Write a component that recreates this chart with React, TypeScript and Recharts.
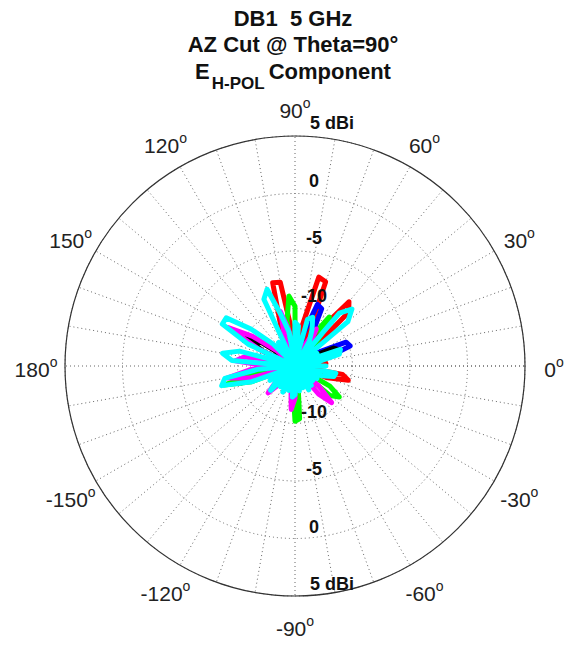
import { RadarChart, Radar, PolarGrid, PolarAngleAxis, PolarRadiusAxis } from "recharts"

const FONT = "'Liberation Sans', Arial, Helvetica, sans-serif"
const CX = 295
const CY = 366
const R = 230
const LABEL_R = 259

// azimuth in degrees, counter-clockwise from 0 (east)
const angles = [
  0, 5, 10, 15, 20, 25, 30, 35, 40, 45, 50, 55, 60, 65, 70, 75, 80, 85,
  90, 95, 100, 105, 110, 115, 120, 125, 130, 135, 140, 145, 150, 155, 160, 165, 170, 175,
  180, 185, 190, 195, 200, 205, 210, 215, 220, 225, 230, 235, 240, 245, 250, 255, 260, 265,
  270, 275, 280, 285, 290, 295, 300, 305, 310, 315, 320, 325, 330, 335, 340, 345, 350, 355,
]

// gain in dBi per series
const red = [
  -14.5, -12.3, -14.8, -13.2, -14.5, -13.0, -14.8, -13.8, -14.5, -8.4, -7.7, -11.0, -14.8, -13.0, -7.2, -7.0, -11.5, -14.8,
  -13.8, -12.0, -7.6, -7.5, -11.5, -14.8, -13.5, -14.8, -13.5, -14.5, -13.8, -14.8, -13.2, -14.5, -13.8, -14.8, -13.0, -14.5,
  -13.5, -14.8, -13.0, -14.5, -13.5, -14.8, -13.8, -14.5, -13.5, -14.8, -14.0, -14.8, -13.8, -14.5, -13.5, -14.8, -13.8, -14.5,
  -13.5, -14.8, -14.0, -14.5, -13.5, -14.8, -13.8, -14.5, -13.5, -14.8, -13.2, -14.5, -13.5, -14.8, -12.0, -10.2, -10.8, -14.8,
]
const green = [
  -14.8, -13.5, -14.5, -13.8, -14.8, -13.5, -14.5, -13.5, -14.8, -13.0, -11.5, -9.8, -12.0, -14.8, -13.8, -14.5, -13.5, -14.8,
  -9.8, -8.9, -11.0, -14.5, -13.5, -14.8, -13.8, -14.5, -13.5, -14.8, -13.8, -14.5, -13.0, -14.8, -13.5, -14.5, -13.2, -14.8,
  -13.5, -14.5, -12.0, -8.6, -11.0, -14.8, -13.8, -14.5, -13.5, -14.8, -13.8, -14.5, -13.5, -14.8, -13.8, -14.5, -13.5, -13.0,
  -10.2, -10.4, -13.5, -14.8, -13.8, -14.5, -13.5, -14.8, -13.5, -14.5, -11.0, -10.3, -11.5, -14.8, -13.8, -14.5, -13.5, -14.5,
]
const blue = [
  -14.5, -13.5, -14.8, -12.0, -9.9, -10.1, -12.5, -14.8, -13.5, -14.5, -13.5, -14.8, -12.5, -9.5, -9.3, -12.0, -14.8, -13.8,
  -14.5, -13.5, -14.8, -13.8, -14.5, -13.5, -14.8, -13.8, -14.5, -13.5, -14.8, -13.5, -14.5, -13.8, -14.8, -13.5, -14.5, -13.2,
  -14.8, -13.5, -14.5, -13.2, -14.8, -13.8, -14.5, -13.5, -14.8, -13.8, -14.5, -13.5, -14.8, -13.8, -14.5, -13.5, -14.8, -13.8,
  -14.5, -13.5, -14.8, -13.8, -14.5, -13.5, -14.8, -13.8, -14.5, -13.5, -14.8, -13.8, -14.5, -13.5, -14.8, -13.8, -14.5, -13.5,
]
const black = [
  -14.8, -13.8, -14.5, -12.8, -10.9, -11.3, -13.5, -14.8, -13.8, -14.5, -13.5, -14.8, -13.8, -14.5, -13.5, -14.8, -13.8, -14.5,
  -13.5, -14.8, -13.8, -14.5, -13.5, -14.8, -13.8, -14.5, -13.5, -14.8, -13.5, -11.5, -9.8, -12.0, -14.8, -13.8, -14.5, -13.5,
  -14.8, -13.8, -14.5, -13.5, -14.8, -13.8, -14.5, -13.5, -14.8, -13.8, -14.5, -13.5, -14.8, -13.8, -14.5, -13.5, -14.8, -13.8,
  -14.5, -13.5, -14.8, -13.8, -14.5, -13.5, -14.8, -13.8, -14.5, -13.5, -14.8, -13.8, -14.5, -13.5, -14.8, -13.8, -14.5, -13.5,
]
const magenta = [
  -14.8, -13.8, -14.5, -13.5, -14.8, -13.8, -14.5, -13.5, -14.8, -13.5, -14.5, -13.0, -11.3, -13.0, -14.8, -13.8, -14.5, -13.5,
  -14.8, -13.5, -11.8, -10.1, -12.5, -14.8, -13.8, -14.5, -13.5, -14.8, -13.0, -10.5, -8.3, -11.5, -14.8, -13.0, -10.5, -9.8,
  -12.5, -11.0, -9.0, -11.0, -14.5, -13.8, -14.8, -13.5, -12.8, -11.7, -13.0, -14.8, -13.8, -14.5, -13.5, -14.8, -13.0, -11.2,
  -12.2, -14.5, -13.8, -14.8, -13.5, -14.5, -13.8, -14.8, -11.8, -10.5, -12.3, -14.8, -13.8, -14.5, -13.5, -14.8, -13.8, -14.5,
]
const cyan = [
  -12.3, -14.5, -13.0, -11.0, -10.8, -14.0, -12.8, -14.8, -9.0, -8.0, -9.0, -14.5, -12.5, -11.5, -10.5, -10.8, -14.5, -11.5,
  -11.2, -14.8, -12.0, -10.5, -7.9, -8.6, -14.8, -12.5, -14.5, -12.3, -10.0, -7.7, -7.7, -10.5, -14.8, -10.0, -8.6, -9.5,
  -14.8, -11.8, -8.8, -8.4, -11.0, -14.5, -12.5, -14.8, -12.8, -12.0, -14.5, -12.8, -14.8, -12.5, -14.5, -12.8, -14.8, -12.3,
  -12.5, -14.8, -12.8, -14.5, -13.0, -14.8, -12.6, -14.5, -12.8, -14.8, -13.0, -14.5, -12.8, -14.8, -12.5, -11.5, -11.4, -14.5,
]

const data = angles.map((angle, i) => ({
  angle,
  red: red[i],
  green: green[i],
  blue: blue[i],
  black: black[i],
  magenta: magenta[i],
  cyan: cyan[i],
}))

const series = [
  { key: "red", color: "#ff0000" },
  { key: "green", color: "#00ff00" },
  { key: "blue", color: "#0000ff" },
  { key: "black", color: "#000000" },
  { key: "magenta", color: "#ff00ff" },
  { key: "cyan", color: "#00ffff" },
]

function AngleTick(props: any) {
  const { payload, x, y } = props
  const v = Math.round(payload.value)
  if (v % 30 !== 0 || v >= 360) return <g />
  const dx = x - CX
  const dy = y - CY
  const d = Math.hypot(dx, dy) || 1
  const px = CX + (dx / d) * LABEL_R
  const py = CY + (dy / d) * LABEL_R
  const label = v <= 180 ? v : v - 360
  return (
    <text x={px} y={py + 11} textAnchor="middle" fontSize={21} fill="#222" fontFamily={FONT}>
      {label}
      <tspan fontSize={14} dy={-10}>o</tspan>
    </text>
  )
}

function RadiusTick(props: any) {
  const { payload, y } = props
  const v = payload.value
  if (v <= -15) return <g />
  const r = CY - y
  const text = v === 5 ? "5 dBi" : String(v)
  const bx = v === 5 ? CX + 37 : CX + 19
  const style = { fontSize: 18, fontWeight: 700, fontFamily: FONT }
  return (
    <g>
      <text x={bx} y={CY - r - 7} textAnchor="middle" fill="#111" style={style}>{text}</text>
      <text x={bx} y={CY + r - 6} textAnchor="middle" fill="#111" style={style}>{text}</text>
    </g>
  )
}

export default function App() {
  const titleLine = { position: "absolute" as const, left: 0, width: 586, textAlign: "center" as const, fontSize: 22, fontWeight: 700, lineHeight: "26px", color: "#111", fontFamily: FONT, whiteSpace: "nowrap" as const }
  return (
    <div style={{ position: "absolute", left: 0, top: 0, width: 566, height: 645, background: "#fff" }}>
      <RadarChart
        width={566}
        height={645}
        data={data}
        cx={CX}
        cy={CY}
        outerRadius={R}
        innerRadius={0}
        startAngle={0}
        endAngle={360}
        margin={{ top: 0, right: 0, bottom: 0, left: 0 }}
      >
        <PolarGrid gridType="circle" stroke="#666" strokeDasharray="1 3" />
        <PolarAngleAxis
          dataKey="angle"
          type="number"
          domain={[0, 360]}
          tickCount={37}
          axisLineType="circle"
          axisLine={{ stroke: "#333", strokeWidth: 1.2 }}
          tickLine={false}
          tick={AngleTick}
        />
        <PolarRadiusAxis angle={90} type="number" domain={[-15, 5]} tickCount={5} axisLine={false} tick={RadiusTick} />
        {series.map((s) => (
          <Radar
            key={s.key}
            dataKey={s.key}
            stroke={s.color}
            strokeWidth={5}
            strokeLinejoin="round"
            fill="none"
            fillOpacity={0}
            dot={false}
            isAnimationActive={false}
          />
        ))}
      </RadarChart>
      <div style={{ ...titleLine, top: 6 }}>DB1&nbsp;&nbsp;5 GHz</div>
      <div style={{ ...titleLine, top: 32 }}>AZ Cut @ Theta=90°</div>
      <div style={{ ...titleLine, top: 59 }}>
        E<span style={{ fontSize: 17, position: "relative", top: 10, marginLeft: 2, marginRight: 4 }}>H-POL</span>Component
      </div>
    </div>
  )
}
